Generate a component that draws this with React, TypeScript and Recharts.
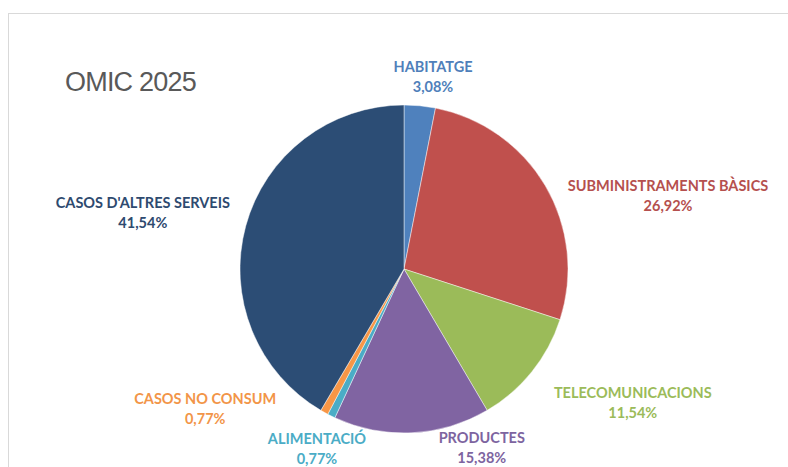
import { Cell, Pie, PieChart } from "recharts";

// OMIC 2025 — casos per àmbit (total 130)
const categories = [
  "HABITATGE",
  "SUBMINISTRAMENTS BÀSICS",
  "TELECOMUNICACIONS",
  "PRODUCTES",
  "ALIMENTACIÓ",
  "CASOS NO CONSUM",
  "CASOS D'ALTRES SERVEIS",
];
const casos = [4, 35, 15, 20, 1, 1, 54];
const percentLabels = ["3,08%", "26,92%", "11,54%", "15,38%", "0,77%", "0,77%", "41,54%"];

const sliceColors = ["#4F81BD", "#C0504D", "#9BBB59", "#8064A2", "#4BACC6", "#F79646", "#2C4D75"];
const textColors = ["#4F7FBA", "#B5504E", "#9BBB59", "#7D64A0", "#4BACC6", "#F29548", "#2E4A6F"];

// label placement (angle from 12 o'clock, distance from centre), like Excel's best fit
const labelPlace: [number, number][] = [
  [8.6, 194],
  [74.5, 274],
  [120.3, 265],
  [156.5, 195],
  [205.8, 200],
  [234.9, 243],
  [282, 267],
];

const chartData = categories.map((name, i) => ({
  name,
  value: casos[i],
  pct: percentLabels[i],
}));

const FONT = "Lato, 'Open Sans', sans-serif";

function renderLabel(props: any) {
  const { cx, cy, index } = props;
  const [ang, dist] = labelPlace[index];
  const rad = (ang * Math.PI) / 180;
  const x = cx + dist * Math.sin(rad);
  const y = cy - dist * Math.cos(rad);
  return (
    <text
      x={x}
      y={y}
      textAnchor="middle"
      fill={textColors[index]}
      fontFamily={FONT}
      fontWeight={700}
      fontSize={14.5}
    >
      <tspan x={x} dy={-5}>
        {chartData[index].name}
      </tspan>
      <tspan x={x} dy={20}>
        {chartData[index].pct}
      </tspan>
    </text>
  );
}

export default function App() {
  return (
    <div
      style={{
        position: "absolute",
        left: 0,
        top: 0,
        width: 788,
        height: 467,
        background: "#fff",
        overflow: "hidden",
      }}
    >
      <div
        style={{
          position: "absolute",
          left: 8,
          top: 13,
          width: 800,
          height: 470,
          border: "1px solid #d9d9d9",
        }}
      />
      <div
        style={{
          position: "absolute",
          left: 65,
          top: 67,
          fontFamily: "'Liberation Sans', Arial, sans-serif",
          fontSize: 27,
          color: "#595959",
          letterSpacing: -0.8,
          lineHeight: "30px",
        }}
      >
        OMIC 2025
      </div>
      <div style={{ position: "absolute", left: 0, top: 0 }}>
        <PieChart width={788} height={467} margin={{ top: 0, right: 0, bottom: 0, left: 0 }}>
          <Pie
            data={chartData}
            dataKey="value"
            nameKey="name"
            cx={404}
            cy={269}
            outerRadius={164}
            startAngle={90}
            endAngle={-270}
            stroke="rgba(255,255,255,0.45)"
            strokeWidth={1}
            label={renderLabel}
            labelLine={false}
            isAnimationActive={false}
          >
            {chartData.map((d, i) => (
              <Cell key={d.name} fill={sliceColors[i]} />
            ))}
          </Pie>
        </PieChart>
      </div>
    </div>
  );
}
